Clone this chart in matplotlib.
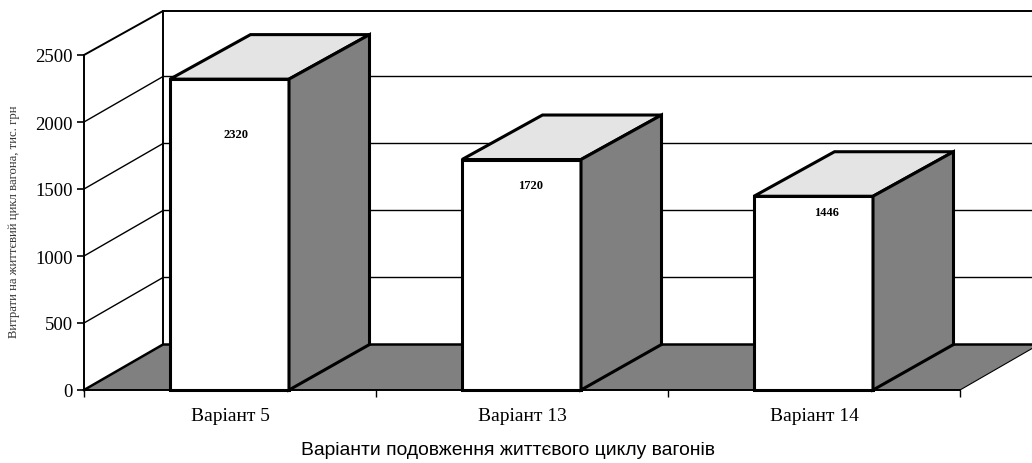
"""
3D style bar chart of wagon life cycle costs, drawn on a flat axes
"""
import matplotlib
matplotlib.use("Agg")
import matplotlib.pyplot as plt

# data
categories = ["Варіант 5", "Варіант 13", "Варіант 14"]
costs = [2320, 1720, 1446]
y_ticks = [0, 500, 1000, 1500, 2000, 2500]

x_title = "Варіанти подовження життєвого циклу вагонів"
y_title = "Витрати на життєвий цикл вагона, тис. грн"

W, H = 1032, 464
LEFT, RIGHT, BOTTOM, TOP = 84, 960, 391, 56

SERIF = "Liberation Serif"
GREY = "#808080"
LIGHT = "#e4e4e4"

fig = plt.figure(figsize=(W / 100, H / 100), dpi=100)
ax = fig.add_axes([LEFT / W, 1 - BOTTOM / H, (RIGHT - LEFT) / W, (BOTTOM - TOP) / H])
ax.set_xlim(0, len(categories))
ax.set_ylim(0, 2500)

# depth of the fake 3D box, in data units
px_x = len(categories) / (RIGHT - LEFT)
px_y = 2500 / (BOTTOM - TOP)
dx = 79 * px_x
bar_dx = 80.5 * px_x
dy = 45.5 * px_y
bar_dy = 44.5 * px_y
far = len(categories) + 0.5

# back wall and left wall lines
for t in y_ticks[1:-1]:
    ax.plot([0, dx, far], [t, t + dy, t + dy], color="black", lw=1.0, clip_on=False, zorder=1)
wall_top = 2500 + dy - 1.5 * px_y
ax.plot([0, dx, far], [2500, wall_top, wall_top], color="black", lw=1.4, clip_on=False, zorder=1)
ax.plot([dx, dx], [dy, wall_top], color="black", lw=1.4, clip_on=False, zorder=1)

# floor
ax.fill([0, 3, 3 + dx, dx], [0, 0, dy, dy], facecolor=GREY, edgecolor="none", clip_on=False, zorder=2)
ax.plot([0, dx, far], [0, dy, dy], color="black", lw=1.8, clip_on=False, zorder=3)
ax.plot([3, 3 + dx], [0, dy], color="black", lw=0.8, clip_on=False, zorder=3)

# bars
bar_w = 119 * px_x
shift = -0.5 * px_x
label_offsets = [(6, -55), (9, -25), (12, -16)]
for i, val in enumerate(costs):
    xc = i + 0.5 + shift
    x0 = xc - bar_w / 2
    x1 = x0 + bar_w
    ax.bar(xc, val, width=bar_w, facecolor="white", edgecolor="black", lw=2.2, clip_on=False, zorder=4)
    ax.fill([x0, x1, x1 + bar_dx, x0 + bar_dx], [val, val, val + bar_dy, val + bar_dy], facecolor=LIGHT,
            edgecolor="black", lw=2.2, joinstyle="miter", clip_on=False, zorder=4)
    ax.fill([x1, x1 + bar_dx, x1 + bar_dx, x1], [0, dy, val + bar_dy, val], facecolor=GREY,
            edgecolor="black", lw=2.2, joinstyle="miter", clip_on=False, zorder=4)
    ox, oy = label_offsets[i]
    ax.annotate(str(val), (i + 0.5, val), xytext=(ox * 0.72, oy * 0.72), textcoords="offset points",
                ha="center", va="center", family=SERIF, weight="bold", fontsize=9, zorder=5)

# axes, ticks and labels
for side in ["top", "right"]:
    ax.spines[side].set_visible(False)
for side in ["left", "bottom"]:
    ax.spines[side].set_linewidth(1.4)
    ax.spines[side].set_zorder(6)
ax.patch.set_alpha(0)

ax.set_yticks(y_ticks)
ax.tick_params(axis="y", length=5, width=1.2, pad=3, labelsize=13.5)
ax.set_xticks(range(len(categories) + 1))
ax.set_xticklabels([])
ax.tick_params(axis="x", which="major", length=5, width=1.0)
ax.set_xticks([i + 0.5 for i in range(len(categories))], minor=True)
ax.set_xticklabels(categories, minor=True, family=SERIF, fontsize=14)
ax.tick_params(axis="x", which="minor", length=0, pad=12.5)
for lab in ax.get_yticklabels():
    lab.set_family(SERIF)

fig.text(508 / W, 1 - 451 / H, x_title, ha="center", va="center", family="Liberation Sans", fontsize=13.9)
fig.text(14.5 / W, 1 - 222 / H, y_title, ha="center", va="center", rotation=90, family=SERIF,
         fontsize=9.2, color="#333333")

plt.savefig("out.png", dpi=100)
